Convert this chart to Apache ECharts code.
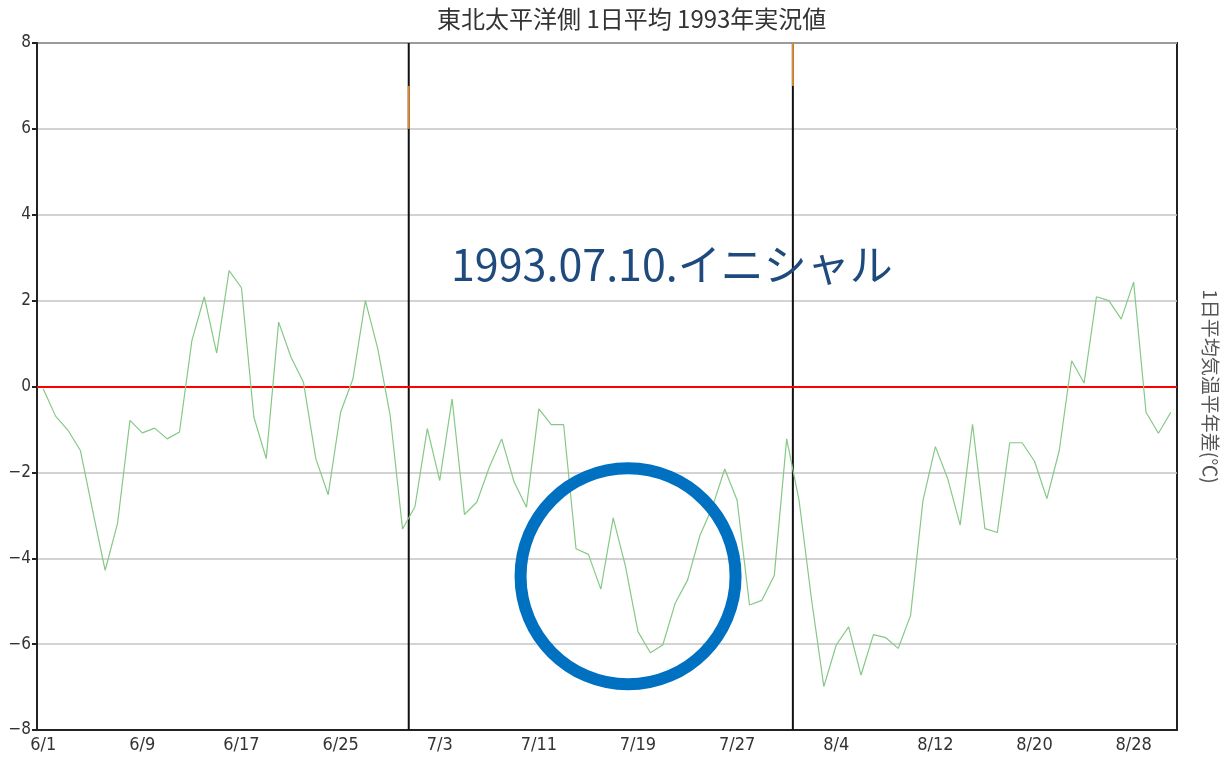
<!DOCTYPE html>
<html>
<head>
<meta charset="utf-8">
<script src="https://cdn.jsdelivr.net/npm/echarts@6/dist/echarts.min.js"></script>
<style>
  html, body { margin: 0; padding: 0; background: #fff; overflow: hidden; }
  #chart { width: 1223px; height: 763px; }
</style>
</head>
<body>
<div id="chart"></div>
<script>
// Daily mean temperature anomaly, Tohoku Pacific side, summer 1993
const monthNames = [6, 7, 8];
const monthDays = [30, 31, 31];

// Daily anomaly (°C), 6/1 .. 8/31
const anomaly = [
  -0.05, -0.69, -1.02, -1.49, -2.90, -4.28, -3.19, -0.79, -1.08, -0.97,
  -1.22, -1.06,  1.07,  2.09,  0.78,  2.70,  2.30, -0.71, -1.68,  1.50,
   0.68,  0.10, -1.68, -2.52, -0.60,  0.18,  2.00,  0.88, -0.67, -3.32,
  -2.80, -0.98, -2.19, -0.29, -2.98, -2.69, -1.88, -1.22, -2.22, -2.81,
  -0.52, -0.89, -0.89, -3.78, -3.91, -4.72, -3.06, -4.20, -5.71, -6.20,
  -6.02, -5.05, -4.51, -3.47, -2.81, -1.92, -2.65, -5.09, -4.98, -4.40,
  -1.22, -2.65, -4.95, -6.99, -6.02, -5.60, -6.72, -5.78, -5.85, -6.10,
  -5.33, -2.65, -1.40, -2.15, -3.23, -0.88, -3.31, -3.40, -1.31, -1.31,
  -1.74, -2.61, -1.49,  0.60,  0.08,  2.09,  2.00,  1.57,  2.43, -0.60,
  -1.09, -0.60
];

// Month boundaries (between 6/30|7/1 and 7/31|8/1), in day-index units
const boundaries = [29.5, 60.5];
// Highlighted spans on each boundary line: [from, to] in °C
const boundaryMarks = [[7, 6], [8, 7]];

const yTicks = [-8, -6, -4, -2, 0, 2, 4, 6, 8];
const labelEvery = 8;

const titleText = '東北太平洋側 1日平均 1993年実況値';
const yNameRight = '1日平均気温平年差(℃)';
const noteText = '1993.07.10.イニシャル';

// Build date categories
const dates = [];
monthNames.forEach((m, k) => {
  for (let d = 1; d <= monthDays[k]; d++) dates.push(m + '/' + d);
});

const narrow = "'Liberation Sans Narrow', 'DejaVu Sans Condensed', 'Liberation Sans', sans-serif";
const cjk = "'Noto Sans CJK JP', sans-serif";

const boundarySeries = [];
boundaries.forEach((x, k) => {
  boundarySeries.push({
    type: 'line', xAxisIndex: 1, yAxisIndex: 0, silent: true, symbol: 'none',
    data: [[x, yTicks[0]], [x, yTicks[yTicks.length - 1]]],
    lineStyle: { color: '#111', width: 2 }, z: 3
  });
  boundarySeries.push({
    type: 'line', xAxisIndex: 1, yAxisIndex: 0, silent: true, symbol: 'none',
    data: [[x, boundaryMarks[k][0]], [x, boundaryMarks[k][1]]],
    lineStyle: { color: '#d98a3a', width: 2 }, z: 4
  });
});

const chart = echarts.init(document.getElementById('chart'), null, { renderer: 'canvas' });

const option = {
  animation: false,
  title: {
    text: titleText,
    left: 432, top: 2,
    textStyle: { fontFamily: cjk, fontSize: 24, fontWeight: 'normal', color: '#333' }
  },
  grid: {
    left: 37, right: 46, top: 43, bottom: 33,
    containLabel: false, outerBoundsMode: 'none',
    show: true, borderColor: '#222', borderWidth: 2, backgroundColor: '#fff'
  },
  xAxis: [
    {
      type: 'category', data: dates, boundaryGap: true,
      axisLine: { onZero: false, lineStyle: { color: '#222', width: 2 } },
      axisTick: { interval: labelEvery - 1, alignWithLabel: true, length: 5, lineStyle: { color: '#222', width: 2 } },
      axisLabel: { interval: labelEvery - 1, margin: 6, fontFamily: narrow, fontSize: 18, color: '#333' },
      splitLine: { show: false }
    },
    {
      type: 'value', min: -0.5, max: dates.length - 0.5, show: false
    }
  ],
  yAxis: [
    {
      type: 'value', min: -8, max: 8, interval: 2,
      axisLine: { show: true, onZero: false, lineStyle: { color: '#222', width: 2 } },
      axisTick: { show: true, length: 5, lineStyle: { color: '#222', width: 2 } },
      axisLabel: {
        margin: 6, fontFamily: narrow, fontSize: 17, color: '#333',
        formatter: v => (v < 0 ? '\u2212' + Math.abs(v) : String(v))
      },
      splitLine: { show: true, lineStyle: { color: '#c4c4c4', width: 1.5 } }
    },
    {
      type: 'value', min: -8, max: 8, position: 'right',
      name: yNameRight, nameLocation: 'middle', nameRotate: -90, nameGap: 24,
      nameTextStyle: { fontFamily: cjk, fontSize: 19, color: '#555' },
      axisLine: { show: false, onZero: false }, axisTick: { show: false },
      axisLabel: { show: false }, splitLine: { show: false }
    }
  ],
  series: [
    {
      type: 'line', xAxisIndex: 0, yAxisIndex: 0, data: anomaly,
      symbol: 'none', silent: true,
      lineStyle: { color: '#86c886', width: 1.2 }, z: 5,
      markLine: {
        silent: true, symbol: 'none', label: { show: false },
        lineStyle: { color: '#ff0000', width: 2, type: 'solid' },
        data: [{ yAxis: 0 }]
      }
    },
    ...boundarySeries
  ]
};
chart.setOption(option);

// Annotation: circle around the late-July dip and the caption
const c = chart.convertToPixel({ xAxisIndex: 1, yAxisIndex: 0 }, [47.2, -4.42]);
chart.setOption({
  graphic: [
    {
      type: 'ellipse', z: 100,
      shape: { cx: c[0], cy: c[1], rx: 107.5, ry: 108 },
      style: { fill: 'none', stroke: '#0070c0', lineWidth: 12 }
    },
    {
      type: 'text', z: 100, left: 451, top: 243,
      style: { text: noteText, font: "43px 'Noto Sans CJK JP', sans-serif", fill: '#1f4a7d' }
    }
  ]
});
</script>
</body>
</html>
